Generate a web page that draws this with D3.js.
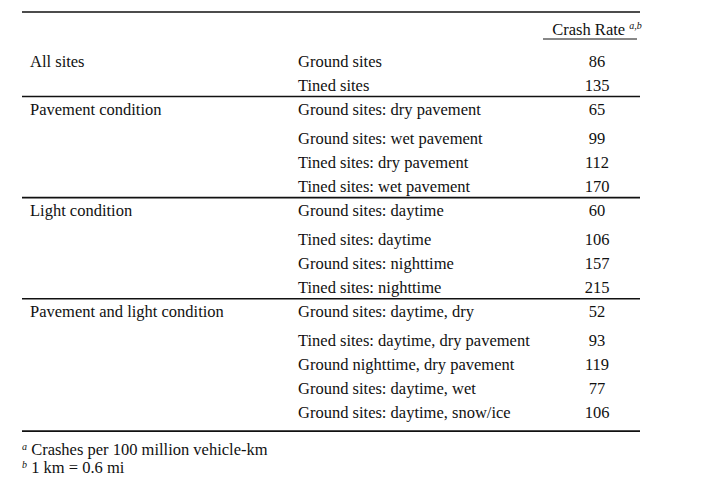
<!DOCTYPE html>
<html>
<head>
<meta charset="utf-8">
<script src="https://cdn.jsdelivr.net/npm/d3@7"></script>
<style>
  body { margin: 0; background: #fff; }
  text { font-family: "Liberation Serif", "Times New Roman", serif; font-size: 16.5px; fill: #111; }
</style>
</head>
<body>
<svg id="chart" width="715" height="500"></svg>
<script>
// table content
let groups = ['All sites', 'Pavement condition', 'Light condition', 'Pavement and light condition'];
let conditions = [
  ['Ground sites', 'Tined sites'],
  ['Ground sites: dry pavement', 'Ground sites: wet pavement', 'Tined sites: dry pavement', 'Tined sites: wet pavement'],
  ['Ground sites: daytime', 'Tined sites: daytime', 'Ground sites: nighttime', 'Tined sites: nighttime'],
  ['Ground sites: daytime, dry', 'Tined sites: daytime, dry pavement', 'Ground nighttime, dry pavement', 'Ground sites: daytime, wet', 'Ground sites: daytime, snow/ice']
];
let crashRates = [
  [86, 135],
  [65, 99, 112, 170],
  [60, 106, 157, 215],
  [52, 93, 119, 77, 106]
];
let footnotes = ['Crashes per 100 million vehicle-km', '1 km = 0.6 mi'];
let footMarks = ['a', 'b'];

const svg = d3.select('#chart');
const left = 22, right = 640;
const col = d3.scaleOrdinal().domain(['group', 'cond', 'rate']).range([30, 298, 597]);

// top rule
svg.append('line').attr('x1', left).attr('x2', right).attr('y1', 12).attr('y2', 12)
  .attr('stroke', '#111').attr('stroke-width', 1.6);

// header
let head = svg.append('text').attr('x', col('rate')).attr('y', 35).attr('text-anchor', 'middle');
head.append('tspan').text('Crash Rate ');
head.append('tspan').attr('dy', -6).attr('font-size', '10px').attr('font-style', 'italic').text('a,b');
svg.append('line').attr('x1', 543).attr('x2', 637).attr('y1', 39).attr('y2', 39)
  .attr('stroke', '#111').attr('stroke-width', 1);

// row layout: first row after rule, then wider gap, then regular spacing
let y = 48;
groups.forEach((g, gi) => {
  let rows = conditions[gi];
  let start = gi === 0 ? 61 : y + 13;
  let step = gi === 0 ? 24 : 23.8;
  let rowY = d3.scaleLinear().domain([1, 2]).range([start + (gi === 0 ? 24 : 29), start + (gi === 0 ? 48 : 29 + step)]);
  let ys = rows.map((r, i) => i === 0 ? start : rowY(i));

  svg.append('text').attr('x', col('group')).attr('y', start + 5.5).text(g);
  rows.forEach((r, i) => {
    svg.append('text').attr('x', col('cond')).attr('y', ys[i] + 5.5).text(r);
    svg.append('text').attr('x', col('rate')).attr('y', ys[i] + 5.5).attr('text-anchor', 'middle').text(crashRates[gi][i]);
  });
  y = ys[ys.length - 1] + (gi === groups.length - 1 ? 19 : 11.5);
  svg.append('line').attr('x1', left).attr('x2', right).attr('y1', y).attr('y2', y)
    .attr('stroke', '#111').attr('stroke-width', 1.6);
});

// footnotes
footnotes.forEach((f, i) => {
  let t = svg.append('text').attr('x', left).attr('y', 455 + i * 18);
  t.append('tspan').attr('font-size', '10px').attr('font-style', 'italic').attr('dy', -5).text(footMarks[i]);
  t.append('tspan').attr('dy', 5).text(' ' + f);
});
</script>
</body>
</html>
